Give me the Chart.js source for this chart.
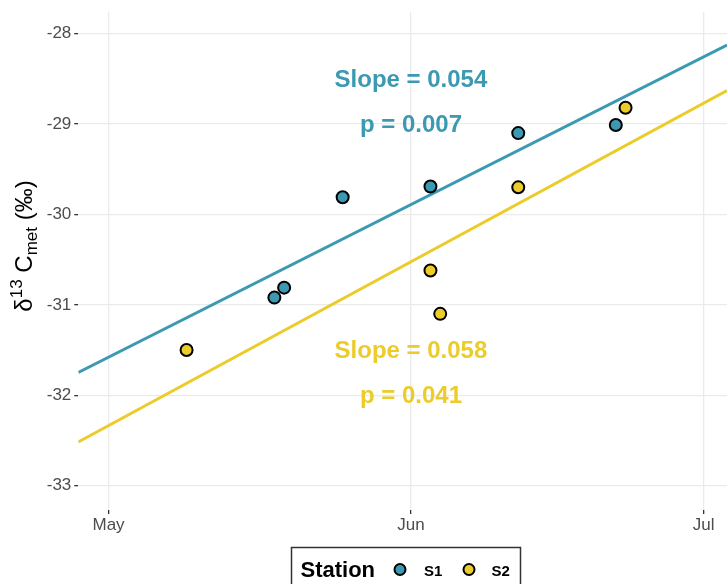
<!DOCTYPE html>
<html>
<head>
<meta charset="utf-8">
<script src="https://cdn.jsdelivr.net/npm/chart.js@4/dist/chart.umd.min.js"></script>
<style>
  html, body { margin: 0; padding: 0; background: #ffffff; }
  #wrap { width: 727px; height: 584px; position: relative; }
</style>
</head>
<body>
<div id="wrap"><canvas id="c" width="727" height="584"></canvas></div>
<script>
// ---- data ----
const s1Dates  = ['2019-05-18', '2019-05-19', '2019-05-25', '2019-06-03', '2019-06-12', '2019-06-22'];
const s1Values = [-30.92, -30.81, -29.81, -29.69, -29.10, -29.01];
const s2Dates  = ['2019-05-09', '2019-06-03', '2019-06-04', '2019-06-12', '2019-06-23'];
const s2Values = [-31.50, -30.62, -31.10, -29.70, -28.82];
const stations = ['S1', 'S2'];
const stationColors = ['#3B9AB2', '#EBCC2A'];
const xTickDates  = ['2019-05-01', '2019-06-01', '2019-07-01'];
const xTickLabels = ['May', 'Jun', 'Jul'];
const yTicks = [-33, -32, -31, -30, -29, -28];
const annotTexts = [['Slope = 0.054', 'p = 0.007'], ['Slope = 0.058', 'p = 0.041']];
const annotDate = '2019-06-01';
const annotY = [[-28.5, -29.0], [-31.5, -32.0]];

// ---- helpers ----
const REF = Date.UTC(2019, 5, 1);
function dayNum(s) {
  const [y, m, d] = s.split('-').map(Number);
  return (Date.UTC(y, m - 1, d) - REF) / 86400000;
}
const X_MIN = -34.1, X_MAX = 32.4, Y_MIN = -33.27, Y_MAX = -27.76;

function fit(xs, ys) {
  const n = xs.length;
  const mx = xs.reduce((a, b) => a + b, 0) / n;
  const my = ys.reduce((a, b) => a + b, 0) / n;
  let sxy = 0, sxx = 0;
  for (let i = 0; i < n; i++) { sxy += (xs[i] - mx) * (ys[i] - my); sxx += (xs[i] - mx) ** 2; }
  const b = sxy / sxx;
  return x => my + b * (x - mx);
}
const s1X = s1Dates.map(dayNum), s2X = s2Dates.map(dayNum);
const f1 = fit(s1X, s1Values), f2 = fit(s2X, s2Values);

const pts = (xs, ys) => xs.map((x, i) => ({ x, y: ys[i] }));
const linePts = f => [{ x: X_MIN, y: f(X_MIN) }, { x: X_MAX, y: f(X_MAX) }];
const tickDays = xTickDates.map(dayNum);

const FONT = '"Liberation Sans", Arial, Helvetica, sans-serif';

const annotPlugin = {
  id: 'annot',
  afterDatasetsDraw(chart) {
    const { ctx, scales } = chart;
    ctx.save();
    ctx.font = 'bold 24px ' + FONT;
    ctx.textAlign = 'center';
    ctx.textBaseline = 'middle';
    annotTexts.forEach((lines, i) => {
      ctx.fillStyle = stationColors[i];
      lines.forEach((t, j) => {
        ctx.fillText(t, scales.x.getPixelForValue(dayNum(annotDate)), scales.y.getPixelForValue(annotY[i][j]) + 1.5);
      });
    });
    ctx.restore();
  },
  afterDraw(chart) {
    const { ctx } = chart;
    ctx.save();
    // y-axis title
    ctx.translate(32, 246);
    ctx.rotate(-Math.PI / 2);
    ctx.fillStyle = '#000';
    ctx.textBaseline = 'alphabetic';
    const big = '24px ' + FONT, small = '17px ' + FONT;
    const parts = [
      { t: '\u03b4', f: big, dy: 0 },
      { t: '13', f: small, dy: -10 },
      { t: ' C', f: big, dy: 0 },
      { t: 'met', f: small, dy: 5 },
      { t: ' (\u2030)', f: big, dy: 0 }
    ];
    let total = 0;
    parts.forEach(p => { ctx.font = p.f; p.w = ctx.measureText(p.t).width; total += p.w; });
    let x = -total / 2;
    parts.forEach(p => { ctx.font = p.f; ctx.fillText(p.t, x, p.dy); x += p.w; });
    ctx.restore();

    // legend
    ctx.save();
    ctx.strokeStyle = '#333333';
    ctx.lineWidth = 1.5;
    ctx.strokeRect(291.5, 547.5, 229, 60);
    ctx.fillStyle = '#000';
    ctx.textBaseline = 'alphabetic';
    ctx.textAlign = 'left';
    ctx.font = 'bold 22px ' + FONT;
    ctx.fillText('Station', 300.5, 577);
    const lx = [400, 469], tx = [424, 491.5];
    stations.forEach((s, i) => {
      ctx.beginPath();
      ctx.arc(lx[i], 569.5, 5.5, 0, Math.PI * 2);
      ctx.fillStyle = stationColors[i];
      ctx.fill();
      ctx.lineWidth = 2;
      ctx.strokeStyle = '#000';
      ctx.stroke();
      ctx.fillStyle = '#000';
      ctx.font = 'bold 15px ' + FONT;
      ctx.fillText(s, tx[i], 575.5);
    });
    ctx.restore();
  }
};

new Chart(document.getElementById('c'), {
  type: 'scatter',
  data: {
    datasets: [
      { label: 'S1', data: pts(s1X, s1Values), backgroundColor: stationColors[0], borderColor: '#000', borderWidth: 2, pointRadius: 6, pointHoverRadius: 6, order: 0 },
      { label: 'S2', data: pts(s2X, s2Values), backgroundColor: stationColors[1], borderColor: '#000', borderWidth: 2, pointRadius: 6, pointHoverRadius: 6, order: 0 },
      { type: 'line', label: 'fit S1', data: linePts(f1), borderColor: stationColors[0], borderWidth: 3, pointRadius: 0, fill: false, order: 1 },
      { type: 'line', label: 'fit S2', data: linePts(f2), borderColor: stationColors[1], borderWidth: 3, pointRadius: 0, fill: false, order: 1 }
    ]
  },
  options: {
    responsive: false,
    animation: false,
    events: [],
    layout: { autoPadding: false, padding: { top: 12, left: 0, right: 0, bottom: 0 } },
    plugins: { legend: { display: false }, tooltip: { enabled: false } },
    scales: {
      x: {
        type: 'linear', min: X_MIN, max: X_MAX,
        afterBuildTicks: s => { s.ticks = tickDays.map(v => ({ value: v })); },
        afterFit: s => { s.height = 74; s.paddingLeft = 0; s.paddingRight = 0; },
        ticks: {
          autoSkip: false, maxRotation: 0, padding: 1,
          color: '#4d4d4d', font: { family: FONT, size: 17 },
          callback: (v) => { const i = tickDays.indexOf(v); return i >= 0 ? xTickLabels[i] : ''; }
        },
        grid: { color: '#ebebeb', lineWidth: 1.3, tickColor: '#333333', tickLength: 4, drawTicks: true },
        border: { display: false }
      },
      y: {
        min: Y_MIN, max: Y_MAX,
        afterBuildTicks: s => { s.ticks = yTicks.map(v => ({ value: v })); },
        afterFit: s => { s.width = 78.3; s.paddingTop = 0; s.paddingBottom = 0; },
        ticks: {
          autoSkip: false, padding: 3,
          color: '#4d4d4d', font: { family: FONT, size: 17 },
          callback: v => String(v)
        },
        grid: { color: '#ebebeb', lineWidth: 1.3, tickColor: '#333333', tickLength: 4, drawTicks: true },
        border: { display: false }
      }
    }
  },
  plugins: [annotPlugin]
});
</script>
</body>
</html>
